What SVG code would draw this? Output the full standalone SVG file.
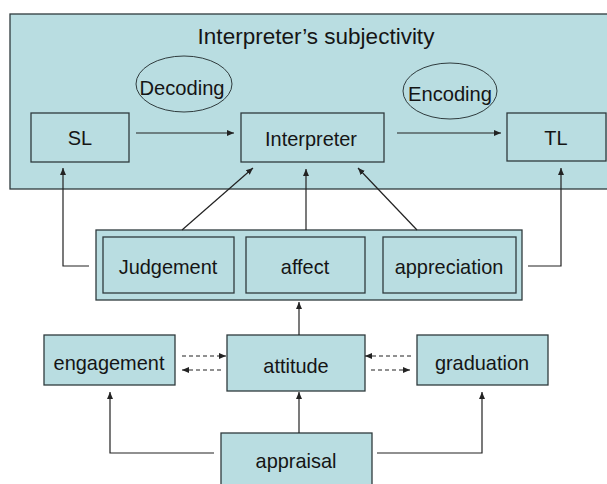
<svg xmlns="http://www.w3.org/2000/svg" width="607" height="484" viewBox="0 0 607 484">
<defs>
<style>
.box{fill:#b9dde1;stroke:#2f3b3d;stroke-width:1.3}
.ell{fill:none;stroke:#2f3b3d;stroke-width:1}
.t{font-family:"Liberation Sans",Arial,sans-serif;font-size:21px;fill:#151515;text-anchor:middle}
.ln{fill:none;stroke:#222;stroke-width:1.2}
.arr{fill:none;stroke:#222;stroke-width:1.2;marker-end:url(#ah)}
.dash{fill:none;stroke:#222;stroke-width:1.2;stroke-dasharray:4 3;marker-end:url(#ah)}
</style>
<marker id="ah" markerWidth="8" markerHeight="8" refX="7" refY="4" orient="auto" markerUnits="userSpaceOnUse">
<path d="M0,1 L7,4 L0,7 Z" fill="#222"/>
</marker>
</defs>
<rect width="607" height="484" fill="#ffffff"/>
<g id="subjectivity">
<rect class="box" x="10" y="14" width="610" height="175"/>
<text class="t" x="316" y="44" style="font-size:22.5px">Interpreter’s subjectivity</text>
</g>
<g id="decoding">
<ellipse class="ell" cx="184" cy="84" rx="48" ry="28"/>
<text class="t" transform="translate(182,95) scale(0.96,1)">Decoding</text>
</g>
<g id="encoding">
<ellipse class="ell" cx="450" cy="91" rx="47" ry="28"/>
<text class="t" transform="translate(450,101) scale(0.96,1)">Encoding</text>
</g>
<g id="SL">
<rect class="box" x="31" y="113" width="98" height="49"/>
<text class="t" transform="translate(80,145) scale(0.95,1)">SL</text>
</g>
<g id="interpreter">
<rect class="box" x="241" y="113" width="143" height="49"/>
<text class="t" transform="translate(311,146) scale(0.95,1)">Interpreter</text>
</g>
<g id="TL">
<rect class="box" x="507" y="113" width="99" height="48"/>
<text class="t" transform="translate(556,145) scale(0.95,1)">TL</text>
</g>
<g id="attitudeGroup">
<rect class="box" x="96" y="230" width="426" height="70"/>
</g>
<g id="judgement">
<rect class="box" x="103" y="237" width="131" height="56"/>
<text class="t" transform="translate(168,273.5) scale(0.95,1)">Judgement</text>
</g>
<g id="affect">
<rect class="box" x="246" y="237" width="119" height="56"/>
<text class="t" transform="translate(305,273.5) scale(0.95,1)">affect</text>
</g>
<g id="appreciation">
<rect class="box" x="383" y="237" width="133" height="56"/>
<text class="t" transform="translate(449,273.5) scale(0.95,1)">appreciation</text>
</g>
<g id="engagement">
<rect class="box" x="44" y="335" width="131" height="50"/>
<text class="t" transform="translate(109,370) scale(0.95,1)">engagement</text>
</g>
<g id="attitude">
<rect class="box" x="227" y="335" width="138" height="56"/>
<text class="t" transform="translate(296,373) scale(0.95,1)">attitude</text>
</g>
<g id="graduation">
<rect class="box" x="417" y="335" width="131" height="50"/>
<text class="t" transform="translate(482,370) scale(0.95,1)">graduation</text>
</g>
<g id="appraisal">
<rect class="box" x="221" y="433" width="151" height="60"/>
<text class="t" transform="translate(296,468) scale(0.95,1)">appraisal</text>
</g>
<g id="connectors">
<path class="arr" d="M136,133 H234"/>
<path class="arr" d="M397,133 H501"/>
<path class="arr" d="M182,230 L253,168"/>
<path class="arr" d="M306,230 V169"/>
<path class="arr" d="M417,230 L358,168"/>
<path class="arr" d="M89,266 H63 V168"/>
<path class="arr" d="M528,266 H561 V168"/>
<path class="arr" d="M299,335 V302"/>
<path class="dash" d="M182,356 H226"/>
<path class="dash" d="M221,370 H182"/>
<path class="dash" d="M411,356 H365"/>
<path class="dash" d="M371,370 H410"/>
<path class="arr" d="M299,433 V392"/>
<path class="arr" d="M214,453 H110 V392"/>
<path class="arr" d="M377,453 H482 V392"/>
</g>
</svg>
